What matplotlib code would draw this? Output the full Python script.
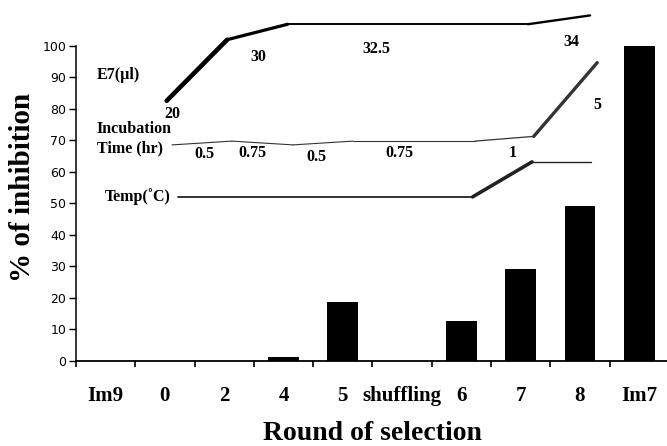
import numpy as np
import matplotlib
matplotlib.use("Agg")
import matplotlib.pyplot as plt

# bar data
rounds = ["Im9", "0", "2", "4", "5", "shuffling", "6", "7", "8", "Im7"]
inhibition = [0, 0, 0, 1.3, 18.7, 0, 12.7, 29.2, 49.3, 100]

# schematic condition lines drawn over the bars (category position, height on the % scale)
e7_x = [1.03, 2.05, 3.07, 7.12, 8.17]
e7_y = [82.6, 102.0, 106.9, 106.9, 109.7]
e7_lw = [3.3, 2.3, 1.4, 1.7]
e7_vals = ["20", "30", "32.5", "34"]
e7_lx = [1.12, 2.57, 4.56, 7.85]
e7_ly = [78.4, 96.4, 98.9, 101.4]

inc_x = [1.12, 2.13, 3.16, 4.17, 6.23, 7.22, 8.29]
inc_y = [68.6, 69.8, 68.6, 69.8, 69.8, 71.3, 94.7]
inc_lw = [0.8, 0.8, 0.8, 0.8, 0.9, 2.4]
inc_vals = ["0.5", "0.75", "0.5", "0.75", "1", "5"]
inc_lx = [1.66, 2.48, 3.56, 4.96, 6.87, 8.30]
inc_ly = [65.7, 66.0, 64.8, 66.0, 66.0, 81.3]

temp_x = [1.22, 6.19, 7.19, 8.18]
temp_y = [52.1, 52.1, 63.2, 63.2]
temp_lw = [1.3, 2.6, 1.0]

serif = ["Liberation Serif", "DejaVu Serif"]

fig = plt.figure(figsize=(6.67, 4.46), dpi=100)
ax = fig.add_axes([0.1139, 0.1906, 0.889, 0.7063])

x = np.arange(len(rounds))
ax.bar(x, inhibition, width=0.52, color="black", zorder=2)

ax.set_xlim(-0.5, len(rounds) - 0.5)
ax.set_ylim(0, 100)
ax.set_yticks(np.arange(0, 101, 10))
ax.tick_params(axis="y", direction="out", length=5, width=1, pad=2, labelsize=9)
for t in ax.get_yticklabels():
    t.set_fontfamily("DejaVu Sans")

# ticks on category boundaries, labels at centers
ax.set_xticks(np.arange(len(rounds)) - 0.5)
ax.set_xticklabels([])
ax.tick_params(axis="x", which="major", direction="out", length=4.5, width=1.2)
ax.set_xticks(x, minor=True)
ax.set_xticklabels(rounds, minor=True, fontfamily=serif, fontweight="bold", fontsize=15)
ax.tick_params(axis="x", which="minor", length=0, pad=18)

for s in ["top", "right"]:
    ax.spines[s].set_visible(False)
ax.spines["left"].set_linewidth(1.1)
ax.spines["bottom"].set_linewidth(1.3)

ax.set_xlabel("Round of selection", fontfamily=serif, fontweight="bold", fontsize=20)
ax.xaxis.set_label_coords(0.5, -0.192)
ax.set_ylabel("% of inhibition", fontfamily=serif, fontweight="bold", fontsize=21)
ax.yaxis.set_label_coords(-0.067, 0.55)

# condition lines
def seg_line(xs, ys, lws, color):
    for i in range(len(lws)):
        ax.plot(xs[i:i + 2], ys[i:i + 2], color=color, lw=lws[i],
                solid_capstyle="round", clip_on=False, zorder=3)

seg_line(e7_x, e7_y, e7_lw, "black")
seg_line(inc_x, inc_y, inc_lw, "#333333")
seg_line(temp_x, temp_y, temp_lw, "#222222")

tk = dict(fontfamily=serif, fontweight="bold", fontsize=11.5, ha="center", va="center")
for lx, ly, s in zip(e7_lx, e7_ly, e7_vals):
    ax.text(lx, ly, s, **tk)
for lx, ly, s in zip(inc_lx, inc_ly, inc_vals):
    ax.text(lx, ly, s, **tk)

ax.text(0.21, 90.8, "E7(\u00b5l)", **tk)
ax.text(-0.146, 73.5, "Incubation", fontfamily=serif, fontweight="bold", fontsize=11.5, ha="left", va="center")
ax.text(-0.146, 67.5, "Time (hr)", fontfamily=serif, fontweight="bold", fontsize=11.5, ha="left", va="center")
ax.text(0.55, 52.1, "Temp(\u02daC)", **tk)

plt.savefig("out.png", dpi=100)
